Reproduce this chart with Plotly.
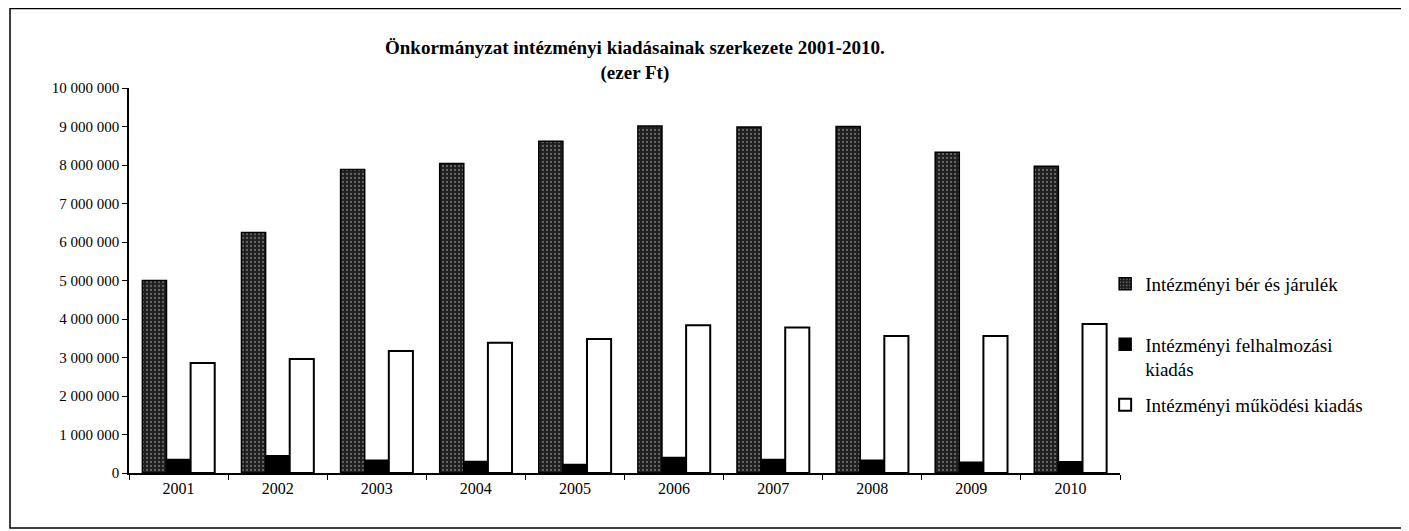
import plotly.graph_objects as go

years = ["2001", "2002", "2003", "2004", "2005", "2006", "2007", "2008", "2009", "2010"]
ber = [5000000, 6250000, 7880000, 8040000, 8620000, 9010000, 8990000, 9000000, 8330000, 7970000]
felhalm = [350000, 450000, 330000, 300000, 220000, 400000, 350000, 330000, 280000, 290000]
mukodesi = [2860000, 2960000, 3170000, 3380000, 3480000, 3840000, 3780000, 3560000, 3560000, 3870000]

series_names = ["Intézményi bér és járulék<br> ", "Intézményi felhalmozási<br>kiadás", "Intézményi működési kiadás"]
tick_vals = [0, 1000000, 2000000, 3000000, 4000000, 5000000, 6000000, 7000000, 8000000, 9000000, 10000000]
tick_text = ["0", "1 000 000", "2 000 000", "3 000 000", "4 000 000", "5 000 000",
             "6 000 000", "7 000 000", "8 000 000", "9 000 000", "10 000 000"]

FONT = "Liberation Serif, Times New Roman, serif"

# page body has an 8px margin: figure coords = window coords - 8
L, T, PW, PH = 121, 80, 991, 385
W, H = 1401, 523

fig = go.Figure()
fig.add_trace(go.Bar(
    x=years, y=ber, name=series_names[0], legendgroup="a",
    marker=dict(color="#2a2a2a", line=dict(color="black", width=1.5),
                pattern=dict(shape=".", fgcolor="#b0b0b0", bgcolor="#1e1e1e", size=4, solidity=0.25)),
))
fig.add_trace(go.Bar(
    x=years, y=felhalm, name=series_names[1], legendgroup="b",
    marker=dict(color="black", line=dict(color="black", width=1.5)),
))
fig.add_trace(go.Bar(
    x=years, y=mukodesi, name=series_names[2], legendgroup="c",
    marker=dict(color="white", line=dict(color="black", width=2)),
))

fig.update_layout(
    width=W, height=H,
    paper_bgcolor="white", plot_bgcolor="white",
    margin=dict(l=L, r=W - L - PW, t=T, b=H - T - PH),
    barmode="group", bargap=0.27, bargroupgap=0,
    font=dict(family=FONT, color="black", size=15),
    showlegend=True,
    legend=dict(x=0.985, xanchor="left", y=1 - (257 - T) / PH, yanchor="top",
                font=dict(family=FONT, size=19, color="black"),
                tracegroupgap=8, itemwidth=30, traceorder="grouped", valign="top",
                bgcolor="rgba(0,0,0,0)"),
    annotations=[dict(
        text="<b>Önkormányzat intézményi kiadásainak szerkezete 2001-2010.</b><br><b>(ezer Ft)</b>",
        xref="paper", yref="paper", x=(627 - L) / PW, y=1 + (T - 27) / PH, xanchor="center", yanchor="top",
        showarrow=False, font=dict(family=FONT, size=19, color="black"), align="center",
    )],
    shapes=[dict(type="rect", xref="paper", yref="paper",
                 x0=(2 - L) / PW, x1=(1394 - L) / PW,
                 y0=-(520 - (T + PH)) / PH, y1=1 + (T - 0.5) / PH,
                 line=dict(color="black", width=1.5), fillcolor="rgba(0,0,0,0)", layer="below")],
)

fig.update_yaxes(range=[0, 10000000], tickvals=tick_vals, ticktext=tick_text,
                 showgrid=False, zeroline=False, showline=True, linecolor="black", linewidth=1.5,
                 ticks="outside", ticklen=5, tickcolor="black",
                 tickfont=dict(family=FONT, size=15, color="black"))
fig.update_xaxes(showgrid=False, showline=True, linecolor="black", linewidth=1.5,
                 ticks="outside", ticklen=5, tickcolor="black", tickson="boundaries",
                 tickfont=dict(family=FONT, size=16, color="black"))

fig.write_html("out.html")
